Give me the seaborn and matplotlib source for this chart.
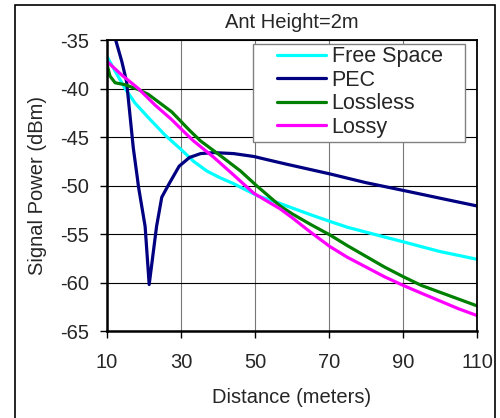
import pandas as pd
import seaborn as sns
import matplotlib.pyplot as plt
from matplotlib.patches import Rectangle

# values
free_x = [10, 12.2, 14.9, 17.6, 21.2, 25.7, 29.8, 33.4, 37.0, 40.6, 44.2, 47.8, 51, 55, 60, 65, 70.3, 75, 80,
          85, 90.1, 95, 100, 105, 110]
free_y = [-36.7, -38.2, -40.0, -41.5, -43.0, -44.8, -46.2, -47.5, -48.5, -49.2, -49.8, -50.5, -51.1, -51.6,
          -52.3, -53.0, -53.7, -54.3, -54.8, -55.3, -55.8, -56.3, -56.8, -57.2, -57.6]

pec_x = [10, 12.2, 14, 15.3, 16.2, 17.1, 18.2, 18.5, 20.3, 21.4, 23.4, 24.8, 26.8, 29.5, 32.3, 35.3, 38.9,
         44.2, 49.7, 54.1, 58.6, 70.3, 80, 90.1, 100, 110]
pec_y = [-31.5, -34.8, -37.2, -39.3, -42.7, -46.1, -49.2, -50.1, -54.2, -60.2, -54.2, -51.2, -49.8, -48.0,
         -47.1, -46.7, -46.6, -46.7, -47.0, -47.4, -47.8, -48.8, -49.7, -50.5, -51.3, -52.1]

lossless_x = [10, 10.8, 12.2, 14.9, 18.5, 21.2, 27.5, 32.3, 35.3, 40.6, 46.1, 50.4, 56.8, 60, 65, 70.3, 75,
              80, 85, 90.1, 95, 100, 105, 110]
lossless_y = [-37.5, -38.7, -39.4, -39.6, -40.1, -40.6, -42.4, -44.3, -45.4, -46.9, -48.5, -50.0, -52.1,
              -52.9, -54.0, -55.1, -56.2, -57.3, -58.4, -59.4, -60.3, -61.0, -61.7, -62.4]

lossy_x = [10, 14, 18.5, 23, 27.5, 30.4, 33.4, 38.9, 44.2, 49.7, 56.8, 60, 65, 70.3, 75, 80, 85, 90.1, 95,
           100, 105, 110]
lossy_y = [-37.2, -38.6, -40.0, -41.7, -43.2, -44.3, -45.4, -47.1, -48.9, -50.8, -52.4, -53.3, -54.8, -56.3,
           -57.4, -58.4, -59.4, -60.3, -61.1, -61.9, -62.7, -63.4]

series = ['Free Space', 'PEC', 'Lossless', 'Lossy']
colors = ['#00FFFF', '#000080', '#008000', '#FF00FF']

df = pd.concat([
    pd.DataFrame({'Distance': free_x, 'Power': free_y, 'Model': 'Free Space'}),
    pd.DataFrame({'Distance': pec_x, 'Power': pec_y, 'Model': 'PEC'}),
    pd.DataFrame({'Distance': lossless_x, 'Power': lossless_y, 'Model': 'Lossless'}),
    pd.DataFrame({'Distance': lossy_x, 'Power': lossy_y, 'Model': 'Lossy'}),
])

sns.set_style('white')
plt.rcParams['font.family'] = ['Liberation Sans', 'DejaVu Sans']
plt.rcParams['axes.unicode_minus'] = False

fig = plt.figure(figsize=(5, 4.18), dpi=100)
ax = fig.add_axes([0.214, 0.208, 0.74, 0.696])

sns.lineplot(data=df, x='Distance', y='Power', hue='Model', hue_order=series,
             palette=dict(zip(series, colors)), sort=False, estimator=None, lw=2.3, ax=ax)

ax.set_xlim(10, 110)
ax.set_ylim(-65, -35)
ax.set_xticks([10, 30, 50, 70, 90, 110])
ax.set_yticks([-65, -60, -55, -50, -45, -40, -35])
ax.grid(axis='y', color='black', lw=0.8)
ax.grid(axis='x', color='#777777', lw=0.8)
ax.tick_params(direction='out', length=5, width=1, color='black', labelsize=14.5,
               bottom=True, left=True)
ax.tick_params(axis='x', pad=11)
ax.tick_params(axis='y', pad=8)
for s in ax.spines.values():
    s.set_color('black')
    s.set_linewidth(1.3)
ax.spines['left'].set_linewidth(1.8)
ax.spines['bottom'].set_linewidth(1.8)

ax.set_title('Ant Height=2m', fontsize=14.5, pad=8.5)
ax.set_xlabel('Distance (meters)', fontsize=14.5, labelpad=11.5)
ax.set_ylabel('Signal Power (dBm)', fontsize=14.5, labelpad=9.5)

# legend box drawn by hand, legend text on top of it
ax.add_patch(Rectangle((0.394, 0.65), 0.574, 0.336, transform=ax.transAxes, facecolor='white',
                       edgecolor='#808080', lw=1.0, zorder=4))
h, l = ax.get_legend_handles_labels()
leg = ax.legend(h, l, loc='upper left', bbox_to_anchor=(0.459, 0.979), borderaxespad=0, borderpad=0,
                fontsize=15.5, frameon=False, handlelength=2.3, handletextpad=0.25, labelspacing=0.12)
leg.set_zorder(5)

# outer chart frame
fig.patches.append(Rectangle((0.03, -0.05), 0.96, 1.038, transform=fig.transFigure,
                             fill=False, edgecolor='black', lw=1.2, clip_on=False))

plt.savefig('out.png', dpi=100)
